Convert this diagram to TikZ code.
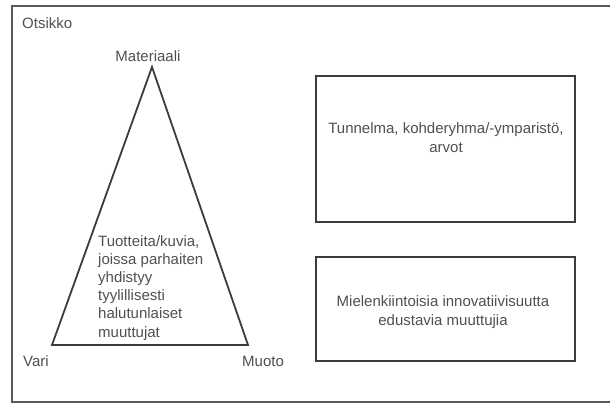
\documentclass[tikz,border=0pt]{standalone}
\usepackage{fontspec}
\setmainfont{Liberation Sans}
\definecolor{linec}{HTML}{3C3C3C}
\definecolor{textc}{HTML}{505050}
\tikzset{
  lbl/.style={text=textc, inner sep=0pt, font=\fontsize{15}{18.5}\selectfont},
  boxshape/.style={draw=linec, line width=1.8pt, rectangle, inner sep=0pt},
  shapeline/.style={draw=linec, line width=1.8pt, line join=miter},
}
\begin{document}
\begin{tikzpicture}[x=1pt,y=-1pt]
\useasboundingbox (0,0) rectangle (610,405);
\fill[white] (0,0) rectangle (610,405);
\clip (0,0) rectangle (610,405);
% outer frame (right edge beyond picture)
\draw[draw=linec!85, line width=1.6pt] (12,6) rectangle (625,402);
\node[lbl, anchor=base west] (title) at (22,28) {Otsikko};
% triangle
\coordinate (apex) at (152,67);
\coordinate (bl) at (52,345);
\coordinate (br) at (248,345);
\draw[shapeline] (apex) -- (bl) -- (br) -- cycle;
\node[lbl, anchor=base] (mat) at (148,61) {Materiaali};
\node[lbl, anchor=base west] (vari) at (23,366) {Vari};
\node[lbl, anchor=base west] (muoto) at (242,366) {Muoto};
\node[lbl, anchor=base west, align=left, font=\fontsize{15}{18.2}\selectfont] (tri) at (98,337)
  {Tuotteita/kuvia,\\joissa parhaiten\\yhdistyy\\tyylillisesti\\halutunlaiset\\muuttujat};
% boxes
\node[boxshape, minimum width=259pt, minimum height=146pt] (box1) at (445.5,149) {};
\node[boxshape, minimum width=259pt, minimum height=104pt] (box2) at (445.5,309) {};
\node[lbl, anchor=base, align=center, font=\fontsize{15}{19}\selectfont] (t1) at (446,152)
  {Tunnelma, kohderyhma/-ymparistö,\\arvot};
\node[lbl, anchor=base, align=center, font=\fontsize{15}{19}\selectfont] (t2) at (443,325)
  {Mielenkiintoisia innovatiivisuutta\\edustavia muuttujia};
\end{tikzpicture}
\end{document}
